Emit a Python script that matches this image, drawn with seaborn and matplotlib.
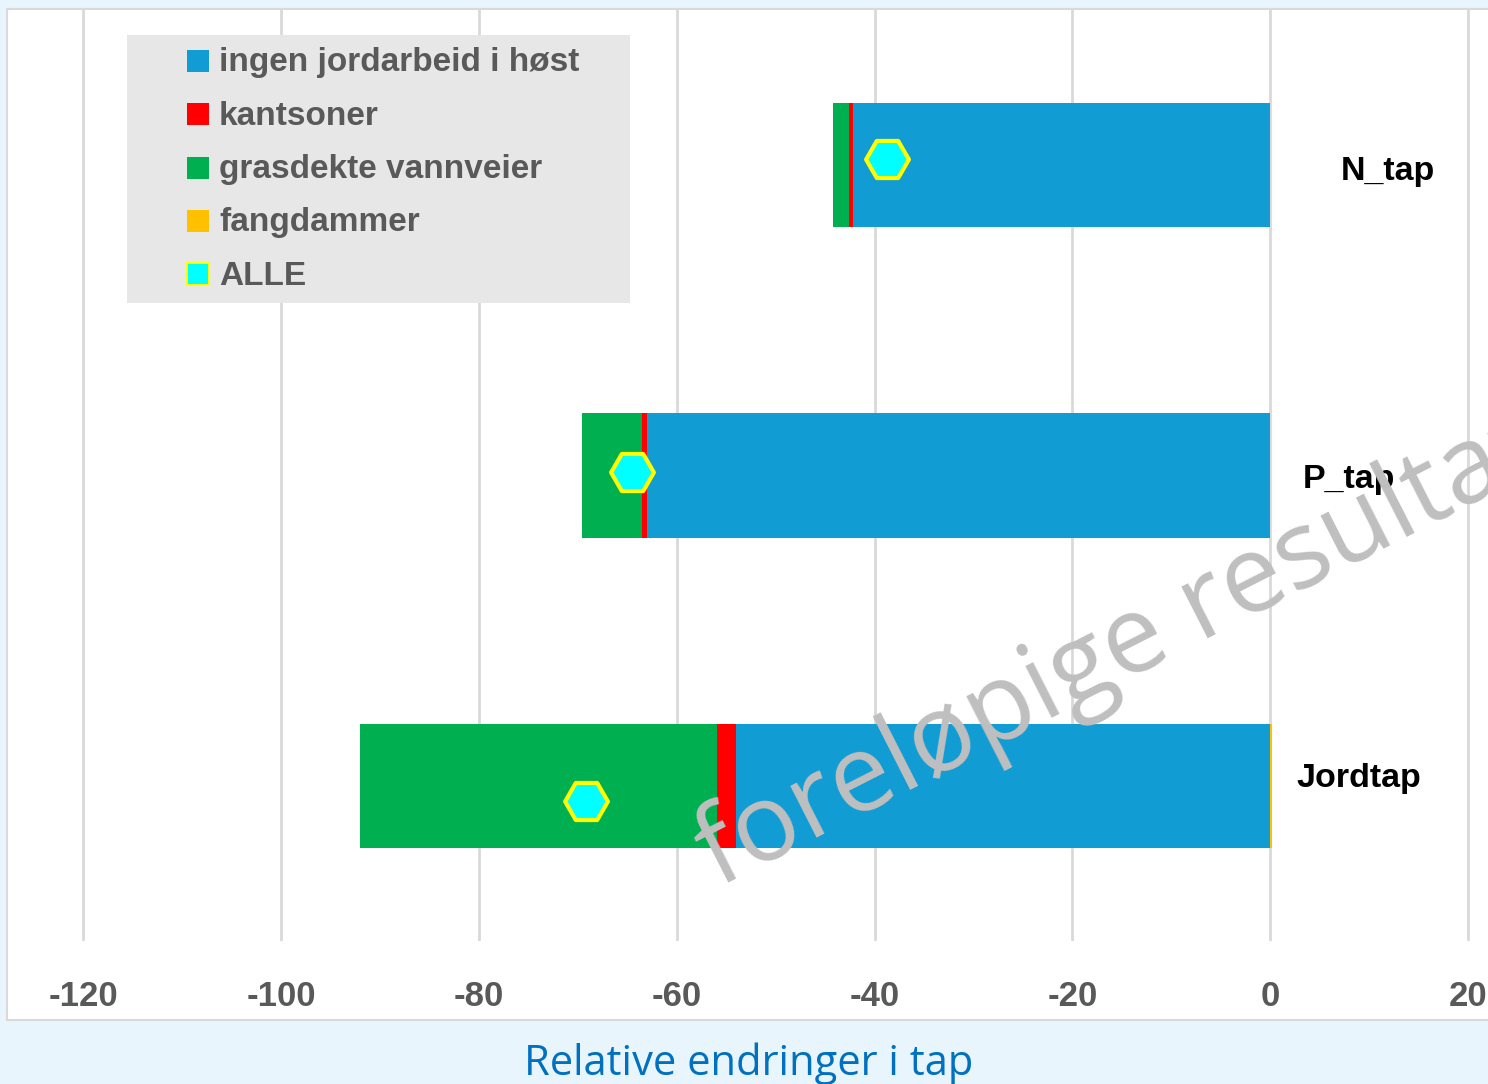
import matplotlib
matplotlib.use('Agg')
import pandas as pd
import seaborn as sns
import matplotlib.pyplot as plt
from matplotlib.patches import Rectangle

# data
categories = ['N_tap', 'P_tap', 'Jordtap']
ingen_jordarbeid = [-42.2, -63.0, -54.0]
kantsoner = [-0.4, -0.5, -1.9]
grasdekte = [-1.6, -6.1, -36.1]
fangdammer = [0.0, 0.0, 0.15]
alle = [-38.7, -64.5, -69.2]
alle_pos = [-0.02, 0.99, 2.05]
label_x = [11.9, 7.9, 8.9]
label_pos = [0.02, 1.012, 1.975]
xticks = [-120, -100, -80, -60, -40, -20, 0, 20]

W, H = 1488, 1084


def make_chart():
    sns.set_theme(style='white')
    plt.rcParams['font.family'] = ['Liberation Sans Narrow', 'Liberation Sans', 'DejaVu Sans']

    df = pd.DataFrame({'cat': categories,
                       'blue': ingen_jordarbeid,
                       'red': kantsoner,
                       'green': grasdekte,
                       'orange': fangdammer})
    df['blue_red'] = df['blue'] + df['red']
    df['total'] = df['blue_red'] + df['green']

    fig = plt.figure(figsize=(W / 100, H / 100), dpi=100)
    fig.patch.set_facecolor('#e8f5fd')
    fig.patches.append(Rectangle((7 / W, 1 - 1020 / H), (W - 7) / W + 0.01, (1020 - 9) / H,
                                 transform=fig.transFigure, facecolor='white',
                                 edgecolor='#d9d9d9', lw=1.5, zorder=-5))

    ax = fig.add_axes([7 / W, 1 - 941 / H, (W - 7) / W, (941 - 10) / H])
    ax.set_zorder(1)
    ax.set_facecolor('none')

    bar_kw = dict(y='cat', orient='h', width=0.4, saturation=1, linewidth=0, ax=ax)
    sns.barplot(data=df, x='total', color='#00b050', zorder=2, **bar_kw)
    sns.barplot(data=df, x='blue_red', color='#ff0000', zorder=3, **bar_kw)
    sns.barplot(data=df, x='blue', color='#119cd4', zorder=4, **bar_kw)
    sns.barplot(data=df, x='orange', color='#ffc000', zorder=5, **bar_kw)

    sns.scatterplot(x=alle, y=alle_pos, marker='H', s=950, color='#00ffff',
                    edgecolor='#ffff00', linewidth=3, ax=ax, zorder=6)

    for x, y, txt in zip(label_x, label_pos, categories):
        ax.text(x, y, txt, ha='center', va='center', fontsize=24.5, fontweight='bold',
                color='black', zorder=7)

    ax.set_xlim(-127.7, 22.0)
    ax.set_ylim(2.5, -0.5)
    ax.set_xticks(xticks)
    ax.set_xticklabels([str(t) for t in xticks], fontsize=25, fontweight='bold',
                       color='#595959')
    ax.tick_params(axis='x', length=0, pad=28)
    ax.set_yticks([])
    ax.set_ylabel('')
    ax.set_xlabel('')
    ax.grid(axis='x', color='#d9d9d9', lw=2, zorder=0)
    ax.set_axisbelow(True)
    for s in ax.spines.values():
        s.set_visible(False)

    # legend box drawn by hand
    fig.patches.append(Rectangle((127 / W, 1 - 303 / H), (630 - 127) / W, (303 - 35) / H,
                                 transform=fig.transFigure, facecolor='#e7e7e7',
                                 edgecolor='none', zorder=8))
    leg_items = [('ingen jordarbeid i høst', '#119cd4', 'none'),
                 ('kantsoner', '#ff0000', 'none'),
                 ('grasdekte vannveier', '#00b050', 'none'),
                 ('fangdammer', '#ffc000', 'none'),
                 ('ALLE', '#00ffff', '#ffff00')]
    for i, (name, fc, ec) in enumerate(leg_items):
        yc = 61 + i * 53.3
        fig.patches.append(Rectangle((187 / W, 1 - (yc + 11) / H), 22 / W, 22 / H,
                                     transform=fig.transFigure, facecolor=fc,
                                     edgecolor=ec, lw=1.5, zorder=9))
        fig.text(219 / W, 1 - (yc + 2) / H, name, ha='left', va='center', fontsize=24,
                 fontweight='bold', color='#595959', zorder=10)

    fig.text(749 / W, 1 - 1064 / H, 'Relative endringer i tap', ha='center', va='center',
             fontsize=30, color='#0070c0', family=['Open Sans', 'DejaVu Sans'])

    # watermark
    fig.text(718 / W, 1 - 888 / H, 'foreløpige resultater', ha='left', va='baseline',
             rotation=27, rotation_mode='anchor', fontsize=78, color='#bfbfbf',
             family=['Open Sans', 'DejaVu Sans'], zorder=20)

    fig.savefig('out.png', dpi=100, facecolor=fig.get_facecolor())


def main():
    make_chart()


if __name__ == '__main__':
    main()
